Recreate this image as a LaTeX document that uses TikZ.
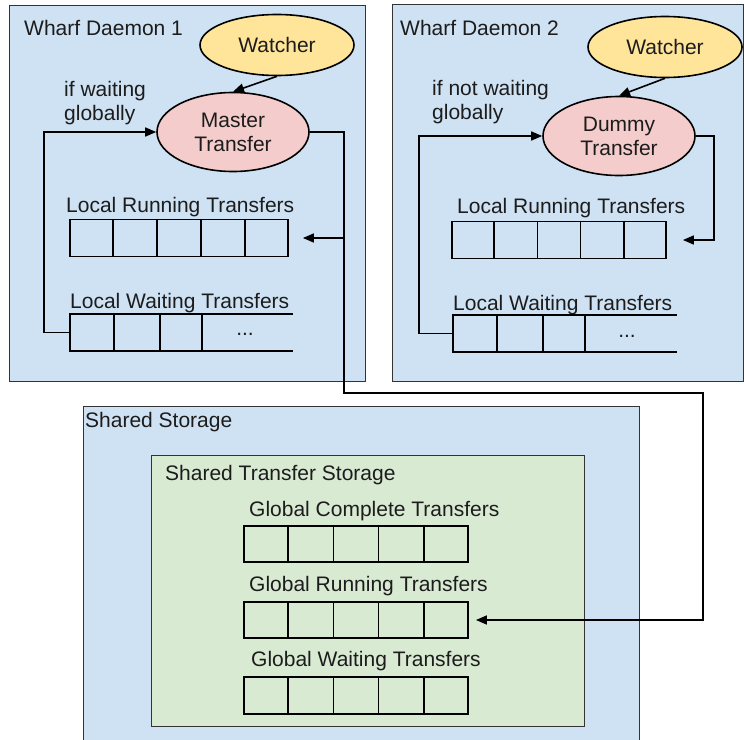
\documentclass[tikz,border=0pt]{standalone}
\usepackage{fontspec}
\setmainfont{Liberation Sans}
\usetikzlibrary{arrows.meta,shapes.geometric,calc}
\definecolor{boxblue}{HTML}{CFE2F3}
\definecolor{boxgreen}{HTML}{D9EAD3}
\definecolor{watchyellow}{HTML}{FFE599}
\definecolor{xferpink}{HTML}{F4CCCC}
\definecolor{ink}{HTML}{1C1C1C}

\begin{document}
\begin{tikzpicture}[x=1pt,y=-1pt,
  font=\fontsize{21}{24}\selectfont,
  every node/.style={text=ink},
  panel/.style={draw=ink!90, line width=1.4pt, inner sep=0, anchor=north west},
  bluebox/.style={panel, fill=boxblue},
  greenbox/.style={panel, fill=boxgreen},
  oval/.style={ellipse, draw=black, line width=1.6pt, inner sep=0, align=center},
  watcher/.style={oval, fill=watchyellow, minimum width=154pt, minimum height=61pt},
  xfer/.style={oval, fill=xferpink, minimum width=152pt, minimum height=79pt},
  cellline/.style={draw=black, line width=1.8pt},
  queue/.style={cellline, inner sep=0, minimum height=37pt},
  openqueue/.style={inner sep=0, minimum height=37pt},
  txt/.style={anchor=base west, inner sep=0, align=left},
  link/.style={draw=black, line width=1.6pt},
  arr/.style={link, -{Triangle[length=11pt,width=9pt]}},
]
\useasboundingbox (0,0) rectangle (744,739);

% ---------- containers ----------
\node[bluebox, minimum width=356pt, minimum height=376pt] (daemon1) at (9,5) {};
\node[bluebox, minimum width=351pt, minimum height=377pt] (daemon2) at (392,4) {};
\node[bluebox, minimum width=556pt, minimum height=340pt] (shared) at (83,406) {};
\node[greenbox, minimum width=433pt, minimum height=271pt] (sts) at (151,455) {};

% ---------- Wharf Daemon 1 ----------
\node[txt] (t1) at (24,35) {Wharf Daemon 1};
\node[watcher] (w1) at (277,45) {Watcher};
\node[xfer] (m1) at (233,132) {Master\\Transfer};
% multi-line captions: the base anchor sits on the last line
\node[txt] (c1) at (64,120) {if waiting\\globally};

\node[txt] (lrt1) at (66,212) {Local Running Transfers};
\node[queue, minimum width=218pt] (lr1) at (179,238) {};
\node[txt] (lwt1) at (70,308) {Local Waiting Transfers};
\node[openqueue, minimum width=223pt] (lw1) at (181.5,332.5) {};
\node[inner sep=0] (dots1) at (245,334) {...};

% ---------- Wharf Daemon 2 ----------
\node[txt] (t2) at (400,35) {Wharf Daemon 2};
\node[watcher] (w2) at (665,47) {Watcher};
\node[xfer] (d2) at (619,136) {Dummy\\Transfer};
\node[txt] (c2) at (432,119) {if not waiting\\globally};

\node[txt] (lrt2) at (457,213) {Local Running Transfers};
\node[queue, minimum width=214pt] (lr2) at (559,240) {};
\node[txt] (lwt2) at (453,310) {Local Waiting Transfers};
\node[openqueue, minimum width=224pt] (lw2) at (565,333.5) {};
\node[inner sep=0] (dots2) at (627,336) {...};

% ---------- Shared Storage ----------
\node[txt] (tss) at (85,427) {Shared Storage};
\node[txt] (tsts) at (165,480) {Shared Transfer Storage};
\node[txt] (gct) at (249,516) {Global Complete Transfers};
\node[queue, minimum width=224pt, minimum height=36pt] (gc) at (356,544) {};
\node[txt] (grt) at (249,591) {Global Running Transfers};
\node[queue, minimum width=224pt, minimum height=36pt] (gr) at (356,620) {};
\node[txt] (gwt) at (251,666) {Global Waiting Transfers};
\node[queue, minimum width=224pt] (gw) at (356,695.5) {};

% ---------- cell dividers ----------
\foreach \q in {lr1,lr2,gc,gr,gw}{
  \foreach \k in {1,2,3,4}{
    \draw[cellline] ($(\q.north west)!\k/5!(\q.north east)$) -- ($(\q.south west)!\k/5!(\q.south east)$);
  }
}
\foreach \q in {lw1,lw2}{
  \draw[cellline] (\q.north east) -- (\q.north west) -- (\q.south west) -- (\q.south east);
  \foreach \dx in {44,90,132}{
    \draw[cellline] ($(\q.north west)+(\dx,0)$) -- ($(\q.south west)+(\dx,0)$);
  }
}

% ---------- connectors ----------
\coordinate (j1) at (344,393);
\coordinate (j2) at (703,393);

\draw[arr] (w1.south) -- (m1.north);
\draw[arr] (lw1.west) -- ++(-26,0) |- (m1.west);
\draw[arr, shorten >=7pt] (m1.east) -| (j1) -- (j2) |- (gr.east);
\draw[arr, shorten >=14pt] (j1 |- lr1.east) -- (lr1.east);

\draw[arr] (w2.south) -- (d2.north);
\draw[arr] (lw2.west) -- ++(-34,0) |- (d2.west);
\draw[arr, shorten >=16pt] (d2.east) -- ++(18,0) |- (lr2.east);
\end{tikzpicture}
\end{document}
